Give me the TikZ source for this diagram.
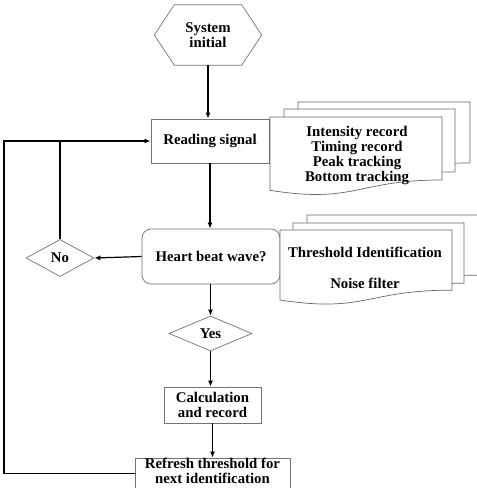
\documentclass[tikz,border=0pt]{standalone}
\usepackage{fontspec}
\setmainfont{Liberation Serif}
\usetikzlibrary{shapes.geometric,calc,arrows.meta}
% document shape: left x, top y, right x, height
\newcommand{\docpath}[4]{%
  (#1,#2) -- (#3,#2) -- (#3,{#2+0.802*#4})
  .. controls ({(#1+#3)/2},{#2+0.802*#4}) and ({(#1+#3)/2},{#2+1.107*#4}) ..
  (#1,{#2+0.934*#4}) -- cycle}
\begin{document}
\begin{tikzpicture}[x=1pt,y=-1pt,
  txt/.style={font=\bfseries\fontsize{14.8}{15}\selectfont, align=center},
  boxline/.style={draw=black!55, line width=0.7pt},
  box/.style={boxline, fill=white, inner sep=0pt, txt},
  dia/.style={boxline, fill=white, shape=diamond, aspect=1.8, inner sep=0pt, txt},
  conn/.style={line width=1.2pt, black},
  arr/.style={conn, -{Latex[length=6pt,width=5pt]}},
  docst/.style={draw=black!60, line width=0.7pt, fill=white}]
\useasboundingbox (0,0) rectangle (477,488);
\fill[white] (0,0) rectangle (477,488);
\clip (0,0) rectangle (477,488);

% nodes
\node[txt, inner sep=0pt, minimum width=107pt, minimum height=60pt] (sys) at (208,35) {System\\initial};
\draw[boxline] (sys.west) -- ($(sys.north west)+(20,0)$) -- ($(sys.north east)+(-20,0)$)
  -- (sys.east) -- ($(sys.south east)+(-20,0)$) -- ($(sys.south west)+(20,0)$) -- cycle;
\node[box, minimum width=118pt, minimum height=44pt] (read) at (210,141) {Reading signal};
\node[box, rounded corners=9pt, minimum width=138pt, minimum height=55pt] (heart) at (211,256.5) {Heart beat wave?};
\node[dia, minimum width=68pt, minimum height=37pt] (no) at (60,258) {No};
\node[dia, minimum width=83pt, minimum height=35pt] (yes) at (210.5,333.5) {Yes};
\node[box, minimum width=97pt, minimum height=36pt] (calc) at (212.5,405) {Calculation\\and record};
\node[box, minimum width=155pt, minimum height=40pt] (ref) at (212.5,478) {};
\node[txt, inner sep=0pt] (reftxt) at (212.5,471) {Refresh threshold for\\next identification};

% document stacks
\draw[docst] \docpath{298}{102}{470}{76};
\draw[docst] \docpath{284}{109}{455}{78.5};
\draw[docst] \docpath{270}{117}{442}{78.5};
\node[txt] (d1t) at (357,155) {Intensity record\\Timing record\\Peak tracking\\Bottom tracking};

\draw[docst] \docpath{307}{215}{479}{75};
\draw[docst] \docpath{293}{223}{464}{75};
\draw[docst] \docpath{280}{230}{452}{75};
\node[txt] (d2t) at (365,267.5) {Threshold Identification\\[16pt]Noise filter};

% connectors
\coordinate (lc) at (4,0);
\coordinate (refw) at ($(ref.north west)+(0,16)$);
\draw[arr] (sys.south) -- (sys.south |- read.north);
\draw[arr] (read.south) -- (read.south |- heart.north);
\draw[arr] (heart.west) -- (no.east);
\draw[conn] (no.north) -- (no.north |- read.west);
\draw[arr] (refw) -- (refw -| lc) |- (read.west);
\draw[arr] (heart.south -| yes.north) -- (yes.north);
\draw[arr] (yes.south) -- (yes.south |- calc.north);
\draw[arr] (calc.south) -- (ref.north);
\end{tikzpicture}
\end{document}
